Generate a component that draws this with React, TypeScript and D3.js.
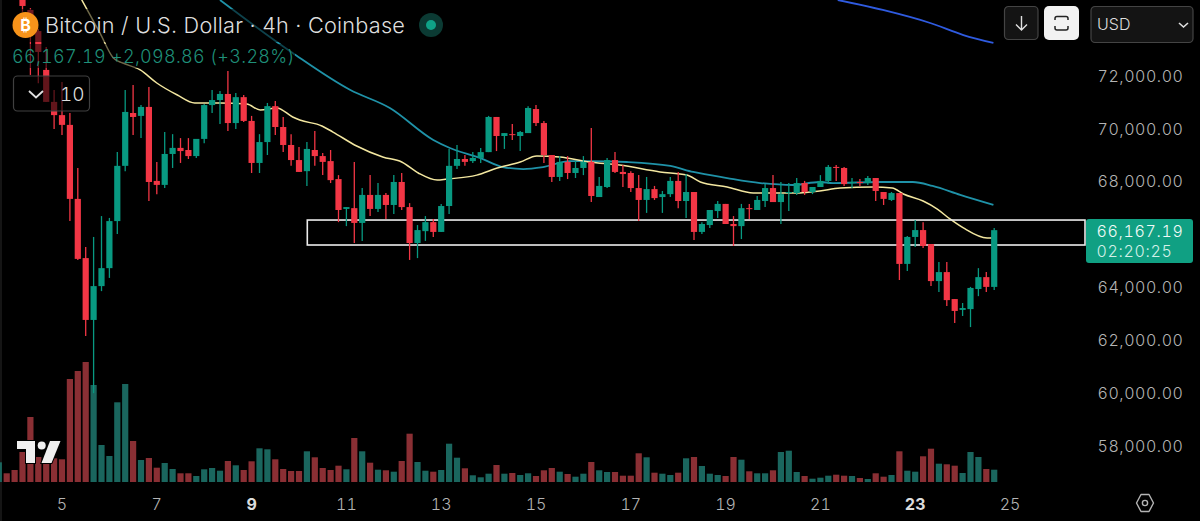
import React from "react";
import * as d3 from "d3";

// 4h candles, first three sit above the visible range
const opens = [75900,76300,76000,75500,74500,73700,72230,71020,70520,70150,67350,65110,62770,64050,64730,66510,68600,70600,70490,70830,68030,67880,69050,69280,69200,68970,69620,70900,71090,71320,70220,71200,70300,68710,69500,70860,70070,69390,68820,68400,69200,68970,68780,68100,66970,67000,66440,67500,66970,67500,67120,67990,67040,65680,66130,66470,66100,67080,68600,68860,68780,68900,69120,70450,69730,69800,69730,69840,70750,70220,69010,68180,68750,68330,68520,68750,67420,67800,68820,68370,68330,67760,67310,67720,67420,67530,68030,67270,67610,66100,66360,66890,67160,66400,66320,67000,66930,67270,67760,67230,67570,67570,67950,67610,67800,68030,68560,68520,67950,67990,67950,68140,67610,67310,67570,64890,65910,66170,65640,64240,64580,63560,63150,63180,63940,64390,64020];
const highs = [76500,76500,76100,75700,74570,73780,73100,71470,71770,70600,68520,65530,65910,66700,66630,69120,71470,71660,70900,71580,68750,69880,69800,69650,69650,69620,70940,71470,71430,72190,71360,71280,70490,69800,70980,71050,70450,69800,69310,69500,69920,69090,69200,68250,67040,68750,67760,68250,67950,67570,68250,68330,67190,66360,66700,66590,67160,69240,69390,69010,69120,69280,70490,70450,69840,70180,69920,70860,70900,70300,69010,68970,68970,68780,68970,70030,68180,68900,69120,68630,68400,68250,68180,67840,67650,68180,68370,68290,67610,66470,66930,67270,67160,66700,67160,67160,67460,67910,68250,67990,67950,68140,68030,67800,68250,68630,68630,68560,68140,68100,68220,68140,67610,67610,67570,65950,66550,66470,65640,64960,64960,63560,63410,64020,64730,64580,66250];
const lows = [75700,75800,75300,74430,72040,71730,71020,69990,69770,66510,65040,62160,60000,63860,64360,66020,68400,69770,69650,67270,67530,67760,68520,68710,68860,68900,69460,70600,70180,69920,69990,70260,68330,68330,69010,69770,69120,68600,68370,67840,68600,68250,67950,66470,66320,65680,65760,66700,66850,66590,66780,66930,65040,65110,65760,65910,66100,66780,68480,68600,68710,68710,69120,69160,69240,69580,69160,69840,70110,68710,67990,68030,68100,68140,68250,67230,67420,67760,68330,67800,67610,66510,66820,67310,66820,67420,67000,66630,65790,66020,66250,66630,66400,65570,65830,66590,66930,67040,67230,66400,66890,67500,67500,67530,67800,67910,68030,67840,67760,67840,67880,67270,67120,67270,64280,64620,65530,65490,64050,63830,63300,62650,62920,62500,63670,63830,63900];
const closes = [76300,76000,75500,74650,73550,72910,71020,70520,70150,67350,65080,62770,64050,64730,66510,68600,70640,70450,70830,67990,67880,69050,69280,69160,68970,69620,70900,71090,71320,70220,71200,70300,68710,69500,70860,70070,69390,68820,68370,69240,68970,68750,68060,66930,67040,66440,67500,66970,67500,67120,67990,67040,65680,66170,66470,66100,67080,68600,68860,68750,68900,69120,70450,69730,69840,69770,69880,70790,70220,69010,68180,68750,68330,68520,68750,67460,67840,68820,68370,68290,67760,67310,67720,67380,67530,68030,67270,67610,66100,66400,66930,67160,66400,66320,67000,66970,67310,67760,67230,67530,67610,67950,67610,67800,68030,68560,68520,67910,67990,67950,68140,67650,67350,67570,64890,65910,66170,65570,64240,64580,63520,63110,63220,63980,64390,64020,66167.19];
const volumes = [19.7,8.7,12,30,65,25,22,23.7,22.7,103,111,120,97,37,26,79.7,98,41,22,24,14.3,19,13,8.7,8.7,6,12.7,14,11.3,21,16.7,12,20.7,33.7,32.7,22.7,13,11,11,30.7,24.7,14,12,16.3,12.7,44,30.7,19.3,12.3,11.7,10.3,21,48.3,20,11.3,10.3,12,38.3,24.3,13.7,6.7,4.7,8.3,17,8.3,9,7,8.7,6,11.7,14,10.3,8,5.3,8.3,20,11.7,10,10,6.3,6.3,28.7,24.7,9.3,8.3,7,9.3,23.7,25,16,8.3,7,6,25,22.3,10.7,8.7,8.7,11.7,30,31.3,10,6,3.3,4.3,6.3,7.3,6.3,6,4,3,8.7,5.3,7,30.7,11.3,10.3,25.7,33.3,18.3,17.7,16.3,9,30,25,13,12.3];
const firstIndex = -1;

// moving averages, read at a few candle positions
const maFastIdx = [9.5,11.8,13.5,14.7,16.9,19,21.6,23.8,27,30.4,32.1,34.2,36.2,37.1,39.9,41.3,44.3,47.6,50,52.1,54.5,55.7,59.5,62.1,65,67.1,70,73.8,77.6,82.7,86.1,87.8,91.2,94.5,97,100.4,102.9,105.5,109.7,112.1,113.5,116,117.8,119.4,121.1,124.1,124.7];
const maFast = [74880,73630,72680,72490,72230,71735,71280,70980,70980,70940,70710,70790,70450,70335,70110,69880,69350,68935,68745,68330,68065,68100,68250,68520,68745,68975,68935,68745,68630,68370,68255,67990,67800,67575,67575,67575,67650,67760,67800,67760,67535,67270,66965,66590,66250,65870,65870];
const maMidIdx = [27,36.2,43.5,48.5,54,56.1,59.9,62.8,65.4,67.9,71.3,73.8,78.5,84,86.9,91.2,95.4,99.5,102.9,104.6,110.5,114.7,117.2,120.7,124.9];
const maMid = [74876,72870,71470,70790,69580,69276,68900,68556,68480,68556,68780,68780,68746,68595,68370,68140,67950,67875,67990,67950,67990,67990,67840,67500,67120];
const maSlowIdx = [105.2,110.9,116.9,121.1,124.9];
const maSlow = [74876,74500,74006,73550,73250];

const priceTicks = [72000,70000,68000,64000,62000,60000,58000];
const dateIdx = [7,19,31,43,55,67,79,91,103,115,127];
const dateLabels = ["5","7","9","11","13","15","17","19","21","23","25"];
const boldDates = ["9","23"];
const zoneTop = 66550;
const zoneBottom = 65605;
const zoneStartIdx = 38.05;
const lastPrice = "66,167.19";
const countdown = "02:20:25";

const UP = "#089981";
const DOWN = "#f23645";
const UP_VOL = "#1a665e";
const DOWN_VOL = "#8a2f34";
const FONT = "Inter, Roboto, sans-serif";
const TNUM = { fontFeatureSettings: '"tnum"' };

const x = d3.scaleLinear().domain([0, 125]).range([6.7, 994.2]);
const y = d3.scaleLinear().domain([72000, 58000]).range([76, 446]);
const v = d3.scaleLinear().domain([0, 120]).range([482, 362]);
const fmt = d3.format(",.2f");

const pairs = (idx: number[], vals: number[]) => idx.map((d, i) => [d, vals[i]] as [number, number]);
const maLine = d3
	.line<[number, number]>()
	.x((d) => x(d[0]))
	.y((d) => y(d[1]))
	.curve(d3.curveMonotoneX);

export default function App() {
	return (
		<svg
			width={1200}
			height={521}
			style={{ position: "absolute", left: 0, top: 0, display: "block", background: "#000" }}
			fontFamily={FONT}
		>
			<rect width={1200} height={521} fill="#000" />
			<line x1={1} x2={1} y1={0} y2={521} stroke="#2a2a2a" />

			{/* volume */}
			{volumes.map((d, i) => {
				const up = closes[i] >= opens[i];
				return (
					<rect
						key={i}
						x={x(i + firstIndex) - 3.1}
						y={v(d)}
						width={6.2}
						height={v(0) - v(d)}
						fill={up ? UP_VOL : DOWN_VOL}
					/>
				);
			})}

			{/* moving averages */}
			<path d={maLine(pairs(maSlowIdx, maSlow)) || ""} fill="none" stroke="#2f5be0" strokeWidth={1.8} />
			<path d={maLine(pairs(maMidIdx, maMid)) || ""} fill="none" stroke="#1f92a8" strokeWidth={1.8} />
			<path d={maLine(pairs(maFastIdx, maFast)) || ""} fill="none" stroke="#f3e7a0" strokeWidth={1.5} />

			{/* price zone */}
			<rect
				x={x(zoneStartIdx)}
				y={y(zoneTop)}
				width={1085 - x(zoneStartIdx)}
				height={y(zoneBottom) - y(zoneTop)}
				fill="none"
				stroke="#ececec"
				strokeWidth={1.6}
			/>

			{/* candles */}
			{opens.map((o, i) => {
				const c = closes[i];
				const color = c >= o ? UP : DOWN;
				const cx = x(i + firstIndex);
				const top = y(Math.max(o, c));
				const bottom = y(Math.min(o, c));
				return (
					<g key={i}>
						<line x1={cx} x2={cx} y1={y(highs[i])} y2={y(lows[i])} stroke={color} strokeWidth={1.3} />
						<rect x={cx - 3.1} y={top} width={6.2} height={Math.max(bottom - top, 1)} fill={color} />
					</g>
				);
			})}

			{/* price axis */}
			{priceTicks.map((t) => (
				<text
					key={t}
					x={1183.5}
					y={y(t)}
					dy="0.36em"
					textAnchor="end"
					fontSize={16}
					fontWeight={300}
					letterSpacing={0.55}
					style={TNUM}
					fill="#b4b4b4"
				>
					{fmt(t)}
				</text>
			))}
			<rect x={1086} y={219} width={107} height={44} rx={3} fill="#10a083" />
			<text x={1183.5} y={231} dy="0.36em" textAnchor="end" fontSize={16} fontWeight={300} letterSpacing={0.65} style={TNUM} fill="#f0faf7">
				{lastPrice}
			</text>
			<text x={1172.5} y={251} dy="0.36em" textAnchor="end" fontSize={16} fontWeight={300} letterSpacing={0.65} style={TNUM} fill="#d2f0e8">
				{countdown}
			</text>

			{/* time axis */}
			{dateIdx.map((d, i) => {
				const bold = boldDates.includes(dateLabels[i]);
				return (
					<text
						key={d}
						x={x(d)}
						y={504}
						dy="0.36em"
						textAnchor="middle"
						fontSize={16}
						fontWeight={bold ? 700 : 300}
						style={TNUM}
						fill={bold ? "#dcdcdc" : "#b4b4b4"}
					>
						{dateLabels[i]}
					</text>
				);
			})}

			{/* settings hexagon */}
			<path
				d="M1141 494.5 L1149 494.5 L1153.5 503 L1149 511.5 L1141 511.5 L1136.5 503 Z"
				fill="none"
				stroke="#b4b4b4"
				strokeWidth={1.4}
				strokeLinejoin="round"
			/>
			<circle cx={1145} cy={503} r={2.6} fill="none" stroke="#b4b4b4" strokeWidth={1.4} />

			{/* tradingview mark */}
			<g fill="#efefef" stroke="#000" strokeWidth={2} paintOrder="stroke">
				<path d="M17 441 L35 441 L35 463 L26 463 L26 449 L17 449 Z" />
				<circle cx={41.7} cy={445.5} r={4} />
				<path d="M50 441 L60.5 441 L51.5 463 L41.5 463 Z" />
			</g>

			{/* legend */}
			<rect x={12} y={9} width={396} height={33} fill="#000" opacity={0.55} />
			<rect x={12} y={44} width={283} height={24} fill="#000" opacity={0.55} />
			<circle cx={25.5} cy={25} r={13} fill="#f7931a" />
			<text x={25.5} y={25} dy="0.36em" textAnchor="middle" fontSize={16} fontWeight={700} fill="#fff">
				₿
			</text>
			<text x={45} y={25} dy="0.36em" fontSize={21.7} fontWeight={300} letterSpacing={0.22} fill="#dedede">
				Bitcoin / U.S. Dollar · 4h · Coinbase
			</text>
			<circle cx={431} cy={25} r={12} fill="#0b3a33" />
			<circle cx={431} cy={25} r={5} fill="#0fa287" />
			<text x={12} y={57} dy="0.36em" fontSize={18} fontWeight={300} letterSpacing={0.3} style={TNUM} fill="#1f9079">
				66,167.19 +2,098.86 (+3.28%)
			</text>
			<rect x={13.5} y={76} width={76} height={35} rx={4} fill="#000" fillOpacity={0.6} stroke="#404040" strokeWidth={1.2} />
			<path d="M29 91 L36 97.5 L43 91" fill="none" stroke="#e0e0e0" strokeWidth={1.8} />
			<text x={60} y={94} dy="0.36em" fontSize={19} fontWeight={300} style={TNUM} fill="#dedede">
				10
			</text>

			{/* top right buttons */}
			<rect x={1004.5} y={6.5} width={33.5} height={33} rx={4} fill="#141414" stroke="#444" strokeWidth={1.2} />
			<path d="M1021.5 16 V30 M1016 24.5 L1021.5 30 L1027 24.5" fill="none" stroke="#e0e0e0" strokeWidth={1.4} />
			<rect x={1044} y={6} width={35} height={34} rx={5} fill="#f2f2f2" />
			<path
				d="M1055 20 V18.5 Q1055 16.5 1057 16.5 H1066 Q1068 16.5 1068 18.5 V20 M1055 26 V28 Q1055 30 1057 30 H1066 Q1068 30 1068 28 V26"
				fill="none"
				stroke="#222"
				strokeWidth={1.5}
			/>
			<rect x={1091} y={6.5} width={102} height={36} rx={4} fill="#141414" stroke="#444" strokeWidth={1.2} />
			<text x={1097} y={24} dy="0.36em" fontSize={16} fontWeight={300} fill="#dedede">
				USD
			</text>
			<path d="M1179 23 L1183.5 27 L1188 23" fill="none" stroke="#e0e0e0" strokeWidth={1.6} />
		</svg>
	);
}
